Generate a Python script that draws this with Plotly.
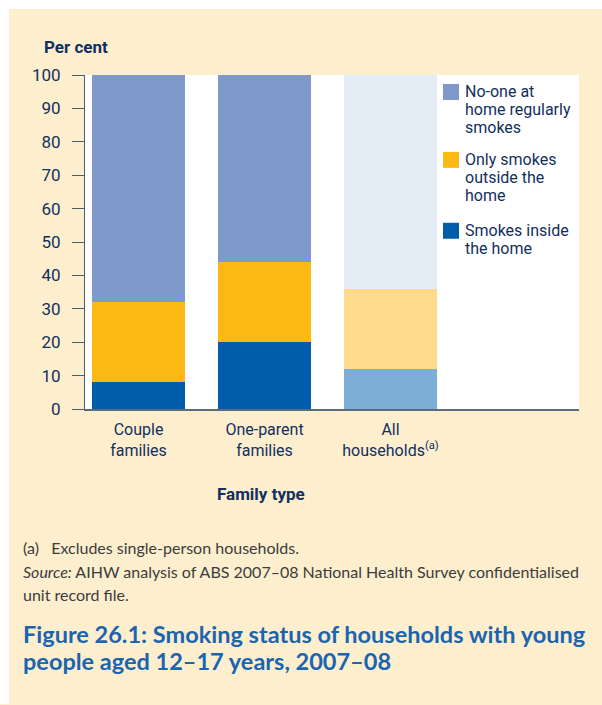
import plotly.graph_objects as go

# ---- data ----
categories = ["Couple<br>families", "One-parent<br>families", "All<br>households<sup>(a)</sup>"]
series_names = ["Smokes inside the home", "Only smokes outside the home", "No-one at home regularly smokes"]
legend_lines = [["Smokes inside", "the home"],
                ["Only smokes", "outside the", "home"],
                ["No-one at", "home regularly", "smokes"]]
smokes_inside = [8, 20, 12]
smokes_outside_only = [24, 24, 24]
no_one_smokes = [68, 56, 64]
y_ticks = [0, 10, 20, 30, 40, 50, 60, 70, 80, 90, 100]

values = [smokes_inside, smokes_outside_only, no_one_smokes]
main_colors = ["#005DAA", "#FDB913", "#7F99CB"]
light_colors = ["#7DAED6", "#FEDA8A", "#E4ECF6"]

NAVY = "#12305E"
BEIGE = "#FDEECE"
FONT_C = "Roboto, sans-serif"
FONT_R = "Lato, Open Sans, sans-serif"

W, H = 602, 705
# plot area in page pixels
PX0, PX1, PY0, PY1 = 85, 579, 75, 409.5
L, R, T, B = PX0, W - PX1, PY0, H - PY1
pw, ph = PX1 - PX0, PY1 - PY0


def px(x):
    return (x - PX0) / pw


def py(y):
    return (PY1 - y) / ph


fig = go.Figure()
for name, vals, c, lc in zip(series_names, values, main_colors, light_colors):
    fig.add_trace(go.Bar(
        x=categories, y=vals, name=name,
        marker=dict(color=[c, c, lc], line=dict(width=0)),
        width=0.738, showlegend=False,
        hovertemplate="%{x}: %{y}%<extra>" + name + "</extra>",
    ))

shapes = [
    dict(type="rect", xref="paper", yref="paper", x0=px(0), x1=px(W), y0=py(0), y1=py(9),
         fillcolor="white", line=dict(width=0), layer="below"),
    dict(type="rect", xref="paper", yref="paper", x0=px(0), x1=px(9), y0=py(0), y1=py(H),
         fillcolor="white", line=dict(width=0), layer="below"),
]
annotations = []

# legend (top to bottom: reverse of stack order)
sw_tops = [84, 152, 223]
for i, idx in enumerate([2, 1, 0]):
    top = sw_tops[i]
    shapes.append(dict(type="rect", xref="paper", yref="paper",
                       x0=px(443), x1=px(459), y0=py(top + 16), y1=py(top),
                       fillcolor=main_colors[idx], line=dict(width=0)))
    for j, line in enumerate(legend_lines[idx]):
        annotations.append(dict(text=line, xref="paper", yref="paper",
                                x=px(463), y=py(top + 8 + 18 * j),
                                xanchor="left", yanchor="middle", showarrow=False,
                                font=dict(family=FONT_C, size=16, color=NAVY)))

annotations.append(dict(text="<b>Per cent</b>", xref="paper", yref="paper",
                        x=px(42), y=py(47), xanchor="left", yanchor="middle", showarrow=False,
                        font=dict(family=FONT_C, size=17, color=NAVY)))
annotations.append(dict(text="<b>Family type</b>", xref="paper", yref="paper",
                        x=px(261), y=py(495), xanchor="center", yanchor="middle", showarrow=False,
                        font=dict(family=FONT_C, size=17, color=NAVY)))

foot = [("(a)   Excludes single-person households.", 548),
        ("<i>Source:</i> AIHW analysis of ABS 2007–08 National Health Survey confidentialised", 572),
        ("unit record file.", 595)]
for t, y in foot:
    annotations.append(dict(text=t, xref="paper", yref="paper", x=px(21), y=py(y),
                            xanchor="left", yanchor="middle", showarrow=False,
                            font=dict(family=FONT_R, size=16, color="#3C3C3C")))
titles = [("<b>Figure 26.1: Smoking status of households with young</b>", 635),
          ("<b>people aged 12–17 years, 2007–08</b>", 662)]
for t, y in titles:
    annotations.append(dict(text=t, xref="paper", yref="paper", x=px(21), y=py(y),
                            xanchor="left", yanchor="middle", showarrow=False,
                            font=dict(family=FONT_R, size=23.5, color="#1A64B0")))

fig.update_layout(
    width=W, height=H,
    margin=dict(l=L, r=R, t=T, b=B, autoexpand=False),
    paper_bgcolor=BEIGE, plot_bgcolor="white",
    barmode="stack", bargap=0,
    showlegend=False,
    shapes=shapes, annotations=annotations,
    font=dict(family=FONT_C, color=NAVY),
    xaxis=dict(range=[-0.4246, 3.496], showgrid=False, zeroline=False,
               showline=True, linecolor="#5A6A80", linewidth=2, ticks="",
               tickfont=dict(family=FONT_C, size=16, color=NAVY), ticklabelstandoff=5),
    yaxis=dict(range=[0, 100], tickvals=y_ticks, showgrid=False, zeroline=False,
               showline=True, linecolor="#4D5B6E", linewidth=1,
               ticks="outside", ticklen=12, tickcolor="#4D5B6E", tickwidth=1,
               tickfont=dict(family=FONT_C, size=17, color=NAVY), ticklabelstandoff=8),
)

fig.write_html(
    "out.html",
    config={"displayModeBar": False},
    post_script="document.body.style.margin='0';"
                "document.documentElement.style.overflow='hidden';",
)
